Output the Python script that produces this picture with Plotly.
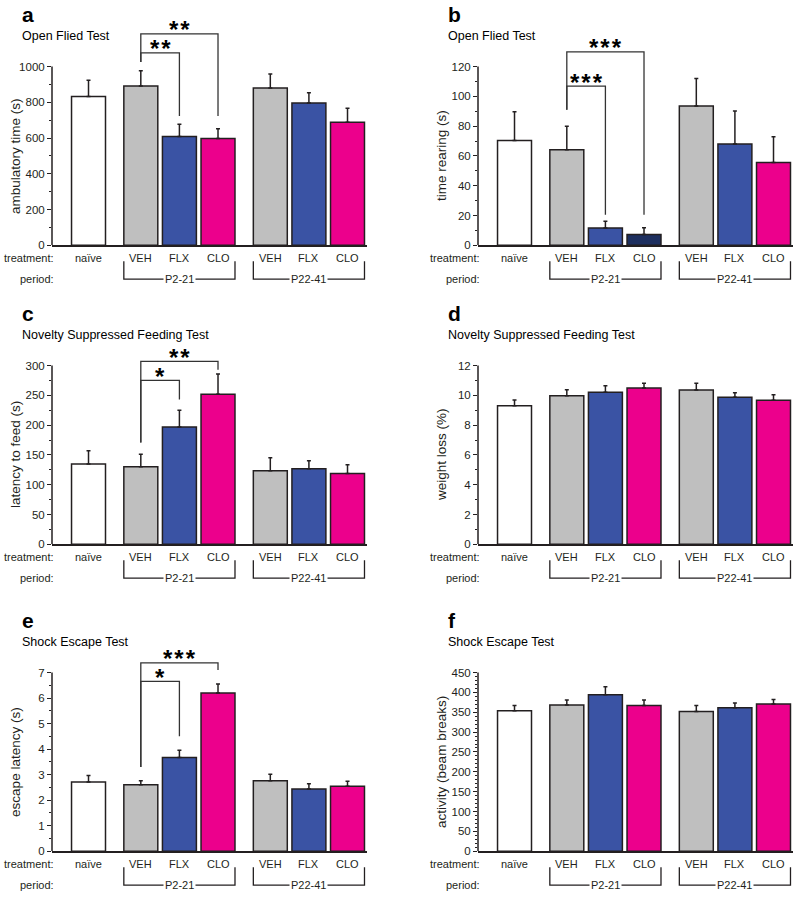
import plotly.graph_objects as go

# ---------------- data ----------------
categories = ["naïve", "VEH", "FLX", "CLO", "VEH", "FLX", "CLO"]
group_of_bar = [0, 1, 1, 1, 2, 2, 2]
periods = ["P2-21", "P22-41"]

a_mean = [833, 891, 609, 598, 880, 796, 689]
a_sem = [91, 85, 69, 54, 79, 58, 78]
b_mean = [70.4, 64.2, 11.6, 7.3, 93.6, 68.0, 55.6]
b_sem = [19.2, 15.8, 4.6, 4.5, 18.4, 22.2, 17.3]
c_mean = [135, 130, 197, 252, 123.5, 126.8, 119]
c_sem = [22, 21, 28, 34, 22, 13.4, 14.5]
d_mean = [9.31, 9.98, 10.2, 10.49, 10.36, 9.87, 9.67]
d_sem = [0.38, 0.40, 0.44, 0.33, 0.46, 0.31, 0.37]
e_mean = [2.71, 2.61, 3.67, 6.20, 2.76, 2.44, 2.55]
e_sem = [0.26, 0.15, 0.29, 0.35, 0.26, 0.20, 0.19]
f_mean = [354, 368, 394, 367, 352, 361, 371]
f_sem = [13, 13, 20, 14, 15, 12, 11]

a_ticks = [0, 200, 400, 600, 800, 1000]
b_ticks = [0, 20, 40, 60, 80, 100, 120]
c_ticks = [0, 50, 100, 150, 200, 250, 300]
d_ticks = [0, 2, 4, 6, 8, 10, 12]
e_ticks = [0, 1, 2, 3, 4, 5, 6, 7]
f_ticks = [0, 50, 100, 150, 200, 250, 300, 350, 400, 450]

# significance brackets: (from bar, to bar, line y, left foot y, right foot y, stars)
a_sig = [(1, 3, 1183, 1026, 724, "**"), (1, 2, 1076, 1026, 724, "**")]
b_sig = [(1, 3, 129.8, 91, 20.5, "***"), (1, 2, 106.9, 91, 20.5, "***")]
c_sig = [(1, 3, 307, 171, 293, "**"), (1, 2, 275, 171, 243, "*")]
e_sig = [(1, 3, 7.38, 3.3, 7.1, "***"), (1, 2, 6.65, 3.3, 4.5, "*")]

# ---------------- style / layout ----------------
W, H = 800, 902
INK = "#231f20"
WHITE, GRAY, BLUE, PINK, NAVY = "#ffffff", "#bfbfbf", "#3a53a4", "#ec008c", "#1d2f5f"
std_colors = [WHITE, GRAY, BLUE, PINK, GRAY, BLUE, PINK]
b_colors = [WHITE, GRAY, BLUE, NAVY, GRAY, BLUE, PINK]
FONT = "Liberation Sans, Arial, sans-serif"

GAP = 0.355
BAR_W = 0.88
pos = [i + g * GAP for i, g in enumerate(group_of_bar)]
X_RANGE = [-0.946, 7.215]

COL_AXIS_X = [52, 478]
AX_W = 315
ROW_BOTTOM = [247, 548, 857]
AX_H = 180
EXT = 45


def PX(x):
    return x / W


def PY(y):
    return 1 - y / H


panels = [
    dict(letter="a", title="Open Flied Test", ytitle="ambulatory time (s)", mean=a_mean, sem=a_sem,
         ticks=a_ticks, minor=100, row=0, col=0, sig=a_sig, colors=std_colors),
    dict(letter="b", title="Open Flied Test", ytitle="time rearing (s)", mean=b_mean, sem=b_sem,
         ticks=b_ticks, minor=10, row=0, col=1, sig=b_sig, colors=b_colors),
    dict(letter="c", title="Novelty Suppressed Feeding Test", ytitle="latency to feed (s)", mean=c_mean,
         sem=c_sem, ticks=c_ticks, minor=25, row=1, col=0, sig=c_sig, colors=std_colors),
    dict(letter="d", title="Novelty Suppressed Feeding Test", ytitle="weight loss (%)", mean=d_mean,
         sem=d_sem, ticks=d_ticks, minor=1, row=1, col=1, sig=[], colors=std_colors),
    dict(letter="e", title="Shock Escape Test", ytitle="escape latency (s)", mean=e_mean, sem=e_sem,
         ticks=e_ticks, minor=0.5, row=2, col=0, sig=e_sig, colors=std_colors),
    dict(letter="f", title="Shock Escape Test", ytitle="activity (beam breaks)", mean=f_mean, sem=f_sem,
         ticks=f_ticks, minor=10, row=2, col=1, sig=[], colors=std_colors),
]

fig = go.Figure()
layout = dict(
    width=W, height=H, margin=dict(l=0, r=0, t=0, b=0),
    paper_bgcolor="white", plot_bgcolor="rgba(0,0,0,0)",
    showlegend=False, font=dict(family=FONT, color=INK),
)
shapes, annotations = [], []

for k, p in enumerate(panels):
    n = k + 1
    xa, ya = f"x{n}" if n > 1 else "x", f"y{n}" if n > 1 else "y"
    xkey, ykey = f"xaxis{n}" if n > 1 else "xaxis", f"yaxis{n}" if n > 1 else "yaxis"
    ax_x = COL_AXIS_X[p["col"]]
    bottom = ROW_BOTTOM[p["row"]]
    ymax = p["ticks"][-1]
    ytop = ymax * (AX_H + EXT) / AX_H
    minor_vals = []
    v = 0.0
    while v <= ymax + 1e-9:
        if all(abs(v - t) > 1e-9 for t in p["ticks"]):
            minor_vals.append(round(v, 6))
        v += p["minor"]

    layout[xkey] = dict(domain=[PX(ax_x), PX(ax_x + AX_W)], range=X_RANGE, anchor=ya,
                        showline=True, linecolor=INK, linewidth=1.5, ticks="",
                        showticklabels=False, showgrid=False, zeroline=False, fixedrange=True)
    layout[ykey] = dict(domain=[PY(bottom), PY(bottom - AX_H - EXT)], range=[0, ytop], anchor=xa,
                        showline=False, tickmode="array", tickvals=p["ticks"], ticks="outside",
                        ticklen=4, tickwidth=1.2, tickcolor=INK,
                        tickfont=dict(size=11.5, color=INK, family=FONT),
                        minor=dict(tickmode="array", tickvals=minor_vals, ticks="outside",
                                   ticklen=2, tickwidth=1, tickcolor=INK),
                        showgrid=False, zeroline=False, fixedrange=True)

    fig.add_trace(go.Bar(
        x=pos, y=p["mean"], width=BAR_W, xaxis=xa, yaxis=ya,
        marker=dict(color=p["colors"], line=dict(color=INK, width=1.5)),
        error_y=dict(type="data", array=p["sem"], arrayminus=[0] * len(p["sem"]), symmetric=False,
                     color=INK, thickness=1.5, width=2),
        hoverinfo="skip",
    ))

    # y axis line (only up to the top tick)
    shapes.append(dict(type="line", xref=f"{xa} domain", yref=ya, x0=0, x1=0, y0=0, y1=ymax,
                       line=dict(color=INK, width=1.5)))

    # panel letter, title, y title
    annotations.append(dict(xref="paper", yref="paper", x=PX(ax_x - 32), y=PY(bottom - 232),
                            text=f"<b>{p['letter']}</b>", showarrow=False, xanchor="left",
                            yanchor="middle", font=dict(size=21, color="#000", family=FONT)))
    annotations.append(dict(xref="paper", yref="paper", x=PX(ax_x - 32), y=PY(bottom - 211),
                            text=p["title"], showarrow=False, xanchor="left", yanchor="middle",
                            font=dict(size=12.5, color="#000", family=FONT)))
    annotations.append(dict(xref="paper", yref="paper", x=PX(ax_x - 36), y=PY(bottom - AX_H / 2),
                            text=p["ytitle"], showarrow=False, textangle=-90, xanchor="center",
                            yanchor="middle", font=dict(size=13.5, color=INK, family=FONT)))

    # x labels
    for xp, lab in zip(pos, categories):
        annotations.append(dict(xref=xa, yref="paper", x=xp, y=PY(bottom + 13), text=lab,
                                showarrow=False, xanchor="center", yanchor="middle",
                                font=dict(size=11, color=INK, family=FONT)))
    annotations.append(dict(xref="paper", yref="paper", x=PX(ax_x + 4), y=PY(bottom + 13),
                            text="treatment:", showarrow=False, xanchor="right", yanchor="middle",
                            font=dict(size=11, color=INK, family=FONT)))
    annotations.append(dict(xref="paper", yref="paper", x=PX(ax_x + 4), y=PY(bottom + 34),
                            text="period:", showarrow=False, xanchor="right", yanchor="middle",
                            font=dict(size=11, color=INK, family=FONT)))

    # period brackets
    for g, plab in enumerate(periods, start=1):
        idx = [i for i, gg in enumerate(group_of_bar) if gg == g]
        x0 = pos[idx[0]] - BAR_W / 2
        x1 = pos[idx[-1]] + BAR_W / 2
        y0, y1 = PY(bottom + 16), PY(bottom + 34)
        shapes.append(dict(type="path", xref=xa, yref="paper",
                           path=f"M {x0},{y0} L {x0},{y1} L {x1},{y1} L {x1},{y0}",
                           line=dict(color=INK, width=1.3)))
        annotations.append(dict(xref=xa, yref="paper", x=(x0 + x1) / 2, y=y1, text=plab,
                                showarrow=False, xanchor="center", yanchor="middle", bgcolor="white",
                                borderpad=1, font=dict(size=11, color=INK, family=FONT)))

    # significance brackets
    for (i0, i1, yl, yf0, yf1, stars) in p["sig"]:
        x0, x1 = pos[i0], pos[i1]
        shapes.append(dict(type="path", xref=xa, yref=ya,
                           path=f"M {x0},{yf0} L {x0},{yl} L {x1},{yl} L {x1},{yf1}",
                           line=dict(color="#333333", width=1.3)))
        annotations.append(dict(xref=xa, yref=ya, x=(x0 + x1) / 2, y=yl, yshift=4,
                                text="<b>" + "\u200a".join(stars) + "</b>", showarrow=False,
                                xanchor="center", yanchor="middle",
                                font=dict(size=24, color="#000", family=FONT)))

layout["shapes"] = shapes
layout["annotations"] = annotations
fig.update_layout(**layout)
fig.write_html("out.html", config={"displayModeBar": False},
               post_script="document.body.style.margin='0';")
